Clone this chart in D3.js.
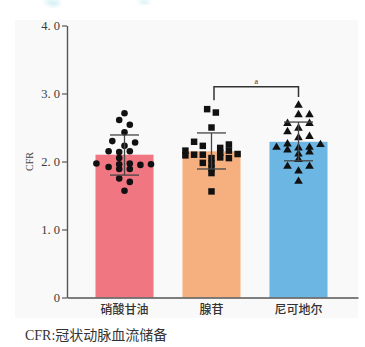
<!DOCTYPE html>
<html><head><meta charset="utf-8">
<script src="https://cdn.jsdelivr.net/npm/d3@7"></script>
<style>
html,body{margin:0;padding:0;background:#fff;}
svg{display:block;}
</style></head>
<body>
<svg id="c" width="365" height="347"></svg>
<script>
// ---- data ----
const categories = ["硝酸甘油", "腺苷", "尼可地尔"];
const means = [2.10, 2.15, 2.29];
const errUpper = [2.39, 2.42, 2.58];
const errLower = [1.80, 1.89, 2.01];
const yTicks = [0, 1, 2, 3, 4];

const nitroValues = [2.71,2.61,2.54,2.43,2.30,2.28,2.23,2.15,2.14,2.15,2.05,1.97,1.92,1.96,1.97,1.95,1.96,1.89,1.89,1.75,1.70,1.57];
const nitroJitter = [0,-1,1,0,-2.3,2,0,-3,-1,1,-1,-5.3,-3,-1,1,3,5,-1,1,-1,1,0];

const adenoValues = [2.77,2.72,2.50,2.29,2.23,2.16,2.09,2.10,2.10,2.05,2.20,2.13,2.06,2.25,2.16,2.05,2.11,1.98,1.97,1.90,1.83,1.56];
const adenoJitter = [-0.5,0.5,0,-2,-1,-3,-3,-2,-1,0,1,1,1,2,2,2,3,-1,0,0,0,0];

const nicoValues = [2.84,2.70,2.70,2.57,2.57,2.50,2.45,2.36,2.38,2.22,2.27,2.18,2.21,2.12,2.22,2.15,2.26,2.04,1.94,1.94,1.87,1.72];
const nicoJitter = [0,0,1,-1,1,0,-1,0,1,-2,-1,-1,0,0,1,1,2,0,-1,1,0,0];

const sigLabel = "a";
const yLabel = "CFR";
const footnote = "CFR:冠状动脉血流储备";

// ---- styles ----
const colors = ["#F07682", "#F6B07F", "#6CB6E4"];
const jitterUnit = [5.3, 8.7, 11]; // px per slot
const shapes = [d3.symbolCircle, d3.symbolSquare, d3.symbolTriangle];
const shapeSize = [34, 42, 32];

const groups = [
  {values: nitroValues, jitter: nitroJitter},
  {values: adenoValues, jitter: adenoJitter},
  {values: nicoValues, jitter: nicoJitter}
];

const svg = d3.select("#c");
const serif = "'Liberation Serif','DejaVu Serif',serif";
const cjk = "'Noto Sans CJK SC','Noto Sans CJK JP',sans-serif";

// panel background
svg.append("rect").attr("x", 15).attr("y", 20).attr("width", 343).attr("height", 298).attr("fill", "#f9f9f9");

// faint watermark
const defs = svg.append("defs");
defs.append("filter").attr("id","blur").append("feGaussianBlur").attr("stdDeviation", 2);
svg.append("path").attr("d","M44,0 Q48,8 58,6 L60,0 Z").attr("fill","#bfe8ef").attr("opacity",0.7).attr("filter","url(#blur)");
svg.append("path").attr("d","M138,0 Q142,6 148,4 L150,0 Z").attr("fill","#bfe8ef").attr("opacity",0.7).attr("filter","url(#blur)");

const y = d3.scaleLinear().domain([0, 4]).range([297.5, 25.5]);
const x = d3.scaleBand().domain(categories).range([67, 358])
  .paddingInner(0.333).paddingOuter(0.339).align(0.483);
const bw = x.bandwidth();

// bars
svg.append("g").selectAll("rect").data(categories).join("rect")
  .attr("x", d => x(d))
  .attr("y", (d, i) => y(means[i]))
  .attr("width", bw)
  .attr("height", (d, i) => y(0) - y(means[i]))
  .attr("fill", (d, i) => colors[i]);

// axes
const fmt = d => d === 0 ? "0" : d.toFixed(1).replace(".", ". ");
const yAxis = svg.append("g").attr("transform", "translate(67,0)")
  .call(d3.axisLeft(y).tickValues(yTicks).tickFormat(fmt).tickSize(5).tickSizeOuter(0));
yAxis.select(".domain").attr("stroke", "#555").attr("stroke-width", 1.4);
yAxis.selectAll(".tick line").attr("stroke", "#555").attr("stroke-width", 1.2);
yAxis.selectAll(".tick text").attr("font-family", serif).attr("font-size", 12.5).attr("fill", "#3a3a3a").attr("x", -7);

const xAxis = svg.append("g").attr("transform", `translate(0,${y(0)})`)
  .call(d3.axisBottom(x).tickSize(0).tickSizeOuter(0).tickPadding(8));
xAxis.select(".domain").attr("stroke", "#555").attr("stroke-width", 1.4);
xAxis.selectAll(".tick text").attr("font-family", cjk).attr("font-size", 12).attr("font-weight", 500).attr("fill", "#333");

// y label
svg.append("text").attr("transform", `translate(33,${y(2)}) rotate(-90)`)
  .attr("text-anchor", "middle").attr("font-family", serif).attr("font-size", 10).attr("fill", "#444").text(yLabel);

// points
groups.forEach((g, gi) => {
  const cx = x(categories[gi]) + bw / 2;
  svg.append("g").selectAll("path").data(g.values).join("path")
    .attr("d", d3.symbol().type(shapes[gi]).size(shapeSize[gi]))
    .attr("transform", (v, i) => `translate(${cx + g.jitter[i] * jitterUnit[gi]},${y(v) + (gi === 2 ? 0.8 : 0)})`)
    .attr("fill", "#111");
});

// error bars
const eb = svg.append("g").attr("stroke", "#444").attr("stroke-width", 1.3);
categories.forEach((c, i) => {
  const cx = x(c) + bw / 2;
  const hw = bw * 0.25;
  eb.append("line").attr("x1", cx).attr("x2", cx).attr("y1", y(errUpper[i])).attr("y2", y(errLower[i]));
  eb.append("line").attr("x1", cx - hw).attr("x2", cx + hw).attr("y1", y(errUpper[i])).attr("y2", y(errUpper[i]));
  eb.append("line").attr("x1", cx - hw).attr("x2", cx + hw).attr("y1", y(errLower[i])).attr("y2", y(errLower[i]));
});

// significance bracket
const bx1 = x(categories[1]) + bw / 2 + 2.5;
const bx2 = x(categories[2]) + bw / 2;
const by = y(3.1);
svg.append("path")
  .attr("d", `M${bx1},${y(2.9)} V${by} H${bx2} V${y(2.95)}`)
  .attr("fill", "none").attr("stroke", "#333").attr("stroke-width", 1.5);
svg.append("text").attr("x", (bx1 + bx2) / 2).attr("y", by - 3).attr("text-anchor", "middle")
  .attr("font-family", serif).attr("font-size", 8).attr("fill", "#333").text(sigLabel);

// footnote
svg.append("text").attr("x", 25).attr("y", 340).attr("font-family", `'Liberation Serif',${cjk}`)
  .attr("font-size", 14).attr("fill", "#333").text(footnote);
</script>
</body></html>
